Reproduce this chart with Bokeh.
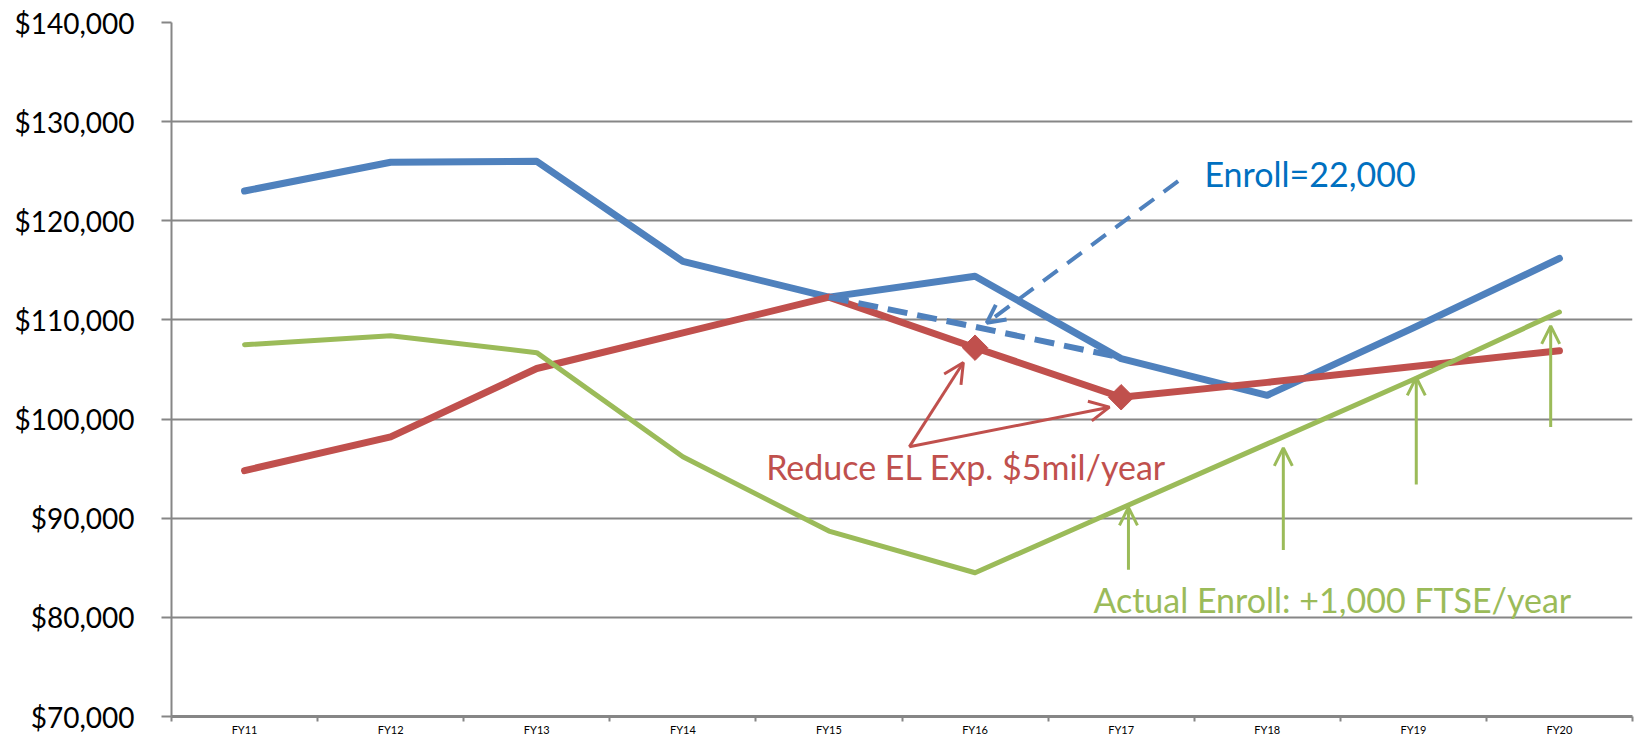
import numpy as np
from bokeh.plotting import figure
from bokeh.models import Range1d, FixedTicker, NumeralTickFormatter, Label, Arrow, OpenHead, ColumnDataSource
from bokeh.embed import file_html
from bokeh.resources import INLINE

nan = float("nan")

categories = ["FY11", "FY12", "FY13", "FY14", "FY15", "FY16", "FY17", "FY18", "FY19", "FY20"]
blue_values = [123000, 125900, 126000, 115900, 112300, 114400, 106100, 102400, 109200, 116200]
blue_dashed_values = [nan, nan, nan, nan, 112300, 109300, 106200, nan, nan, nan]
red_values = [94800, 98200, 105100, 108700, 112300, 107200, 102200, 103700, 105300, 106900]
red_marker_values = [nan, nan, nan, nan, nan, 107200, 102200, nan, nan, nan]
green_values = [107500, 108400, 106700, 96200, 88700, 84500, 91000, 97500, 104000, 110800]
y_ticks = [70000, 80000, 90000, 100000, 110000, 120000, 130000, 140000]

BLUE = "#4F81BD"
RED = "#C0504D"
GREEN = "#9BBB59"
GRID = "#868686"
FONT = "Lato"

x = list(range(len(categories)))
src = ColumnDataSource(dict(x=x, blue=blue_values, blue_d=blue_dashed_values, red=red_values,
                            red_m=red_marker_values, green=green_values))

p = figure(width=1637, height=738, output_backend="svg", toolbar_location=None,
           x_range=Range1d(-0.5, len(categories) - 0.5), y_range=Range1d(y_ticks[0], y_ticks[-1]),
           min_border_left=171, min_border_right=5, min_border_top=22, min_border_bottom=0)
p.outline_line_color = None
p.background_fill_color = "white"
p.border_fill_color = "white"

# axes
p.yaxis.ticker = FixedTicker(ticks=y_ticks)
p.yaxis.formatter = NumeralTickFormatter(format="$0,0")
p.yaxis.major_label_text_font = FONT
p.yaxis.major_label_text_font_size = "28px"
p.yaxis.major_label_text_color = "black"
p.yaxis.major_label_standoff = 27
p.yaxis.axis_line_color = GRID
p.yaxis.axis_line_width = 2
p.yaxis.major_tick_line_color = GRID
p.yaxis.major_tick_line_width = 2
p.yaxis.major_tick_out = 10
p.yaxis.major_tick_in = 0
p.yaxis.minor_tick_line_color = None

# category labels at the centres (major ticks hidden), boundary marks as minor ticks
boundaries = [i - 0.5 for i in range(len(categories) + 1)]
p.xaxis.ticker = FixedTicker(ticks=x, minor_ticks=boundaries)
p.xaxis.major_label_overrides = {i: c for i, c in zip(x, categories)}
p.xaxis.major_label_text_font = FONT
p.xaxis.major_label_text_font_size = "11px"
p.xaxis.major_label_text_color = "black"
p.xaxis.major_label_standoff = 1
p.xaxis.axis_line_color = GRID
p.xaxis.axis_line_width = 3
p.xaxis.major_tick_line_color = None
p.xaxis.major_tick_out = 0
p.xaxis.major_tick_in = 0
p.xaxis.minor_tick_line_color = GRID
p.xaxis.minor_tick_line_width = 2
p.xaxis.minor_tick_out = 5
p.xaxis.minor_tick_in = 0

p.xgrid.grid_line_color = None
p.ygrid.ticker = FixedTicker(ticks=y_ticks)
p.ygrid.grid_line_color = GRID
p.ygrid.grid_line_width = 2

# series
p.line("x", "blue", source=src, line_color=BLUE, line_width=7, line_cap="round", line_join="round")
p.line("x", "red", source=src, line_color=RED, line_width=7, line_cap="round", line_join="round")
p.line("x", "blue_d", source=src, line_color=BLUE, line_width=6, line_dash="20 10", line_join="round")
p.line("x", "green", source=src, line_color=GREEN, line_width=5, line_cap="round", line_join="round")
p.scatter("x", "red_m", source=src, marker="square", angle=np.pi / 4, size=18,
          fill_color=RED, line_color=RED)

# annotations
TXT = dict(text_font=FONT, text_font_size="34px", text_baseline="alphabetic", y_offset=15)
p.add_layout(Label(x=6.57, y=123300, text="Enroll=22,000", text_color="#0070C0", **TXT))
p.add_layout(Label(x=3.57, y=93700, text="Reduce EL Exp. $5mil/year", text_color=RED, **TXT))
p.add_layout(Label(x=5.81, y=80300, text="Actual Enroll: +1,000 FTSE/year", text_color=GREEN, **TXT))

p.add_layout(Arrow(end=OpenHead(size=18, line_color=BLUE, line_width=4),
                   x_start=6.39, y_start=124000, x_end=5.08, y_end=109700,
                   line_color=BLUE, line_width=4, line_dash="18 12"))

for xe, ye in [(4.92, 105700), (5.92, 101200)]:
    p.add_layout(Arrow(end=OpenHead(size=20, line_color=RED, line_width=3),
                       x_start=4.55, y_start=97200, x_end=xe, y_end=ye,
                       line_color=RED, line_width=3))

for xa, y0, y1 in [(6.05, 84800, 91100), (7.11, 86800, 97100), (8.02, 93400, 104200), (8.94, 99200, 109400)]:
    p.add_layout(Arrow(end=OpenHead(size=18, line_color=GREEN, line_width=3),
                       x_start=xa, y_start=y0, x_end=xa, y_end=y1,
                       line_color=GREEN, line_width=3))

open("out.html", "w").write(file_html(p, INLINE))
